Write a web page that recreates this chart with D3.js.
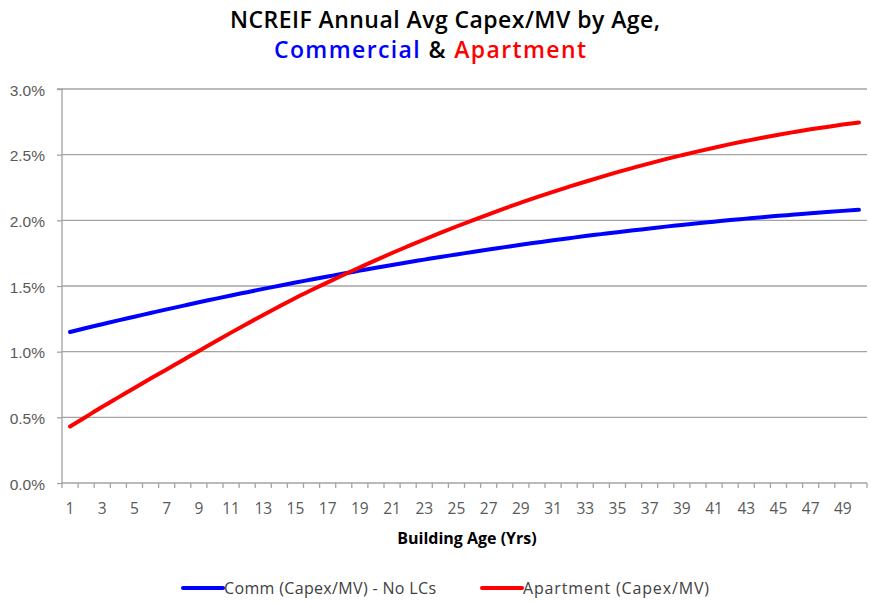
<!DOCTYPE html>
<html>
<head>
<meta charset="utf-8">
<script src="https://cdn.jsdelivr.net/npm/d3@7"></script>
<style>
  body { margin: 0; background: #fff; }
  svg { display: block; }
</style>
</head>
<body>
<div id="chart"></div>
<script>
// building age, years 1..50
const ages = [
  1, 2, 3, 4, 5, 6, 7, 8, 9, 10, 11, 12, 13, 14, 15, 16, 17, 18, 19, 20,
  21, 22, 23, 24, 25, 26, 27, 28, 29, 30, 31, 32, 33, 34, 35, 36, 37, 38, 39, 40,
  41, 42, 43, 44, 45, 46, 47, 48, 49, 50
];

// Capex/MV in percent
const commValues = [
  1.150, 1.180, 1.209, 1.238, 1.266, 1.294, 1.322, 1.349, 1.376, 1.402,
  1.428, 1.453, 1.478, 1.502, 1.526, 1.549, 1.572, 1.595, 1.617, 1.639,
  1.660, 1.681, 1.701, 1.721, 1.740, 1.759, 1.778, 1.796, 1.814, 1.831,
  1.848, 1.864, 1.880, 1.895, 1.910, 1.924, 1.938, 1.952, 1.965, 1.978,
  1.990, 2.002, 2.013, 2.024, 2.034, 2.044, 2.054, 2.063, 2.072, 2.080
];
const aptValues = [
  0.430, 0.505, 0.580, 0.652, 0.724, 0.795, 0.865, 0.935, 1.005, 1.075,
  1.145, 1.213, 1.280, 1.345, 1.409, 1.469, 1.528, 1.586, 1.642, 1.697,
  1.751, 1.803, 1.854, 1.904, 1.953, 2.000, 2.046, 2.091, 2.134, 2.176,
  2.217, 2.256, 2.294, 2.331, 2.367, 2.401, 2.434, 2.466, 2.496, 2.525,
  2.553, 2.580, 2.605, 2.629, 2.652, 2.673, 2.693, 2.711, 2.729, 2.745
];

const yTicks = [0, 0.5, 1.0, 1.5, 2.0, 2.5, 3.0];
const xTickLabels = ages.filter(a => a % 2 === 1);

const series = [
  { name: "Comm (Capex/MV) - No LCs", values: commValues, color: "#0000ff" },
  { name: "Apartment (Capex/MV)", values: aptValues, color: "#ff0000" }
];

const width = 871, height = 602;
const margin = { top: 89, right: 4, bottom: 119, left: 62 };

const svg = d3.select("#chart")
  .append("svg")
  .attr("width", width)
  .attr("height", height)
  .style("font-family", "'Open Sans', sans-serif");

const x = d3.scaleBand()
  .domain(ages)
  .range([margin.left, width - margin.right]);

const y = d3.scaleLinear()
  .domain([0, 3])
  .range([height - margin.bottom, margin.top]);

const gridColor = "#a3a3a3";
const labelColor = "#595959";

// gridlines
svg.append("g")
  .selectAll("line")
  .data(yTicks.filter(d => d > 0))
  .join("line")
  .attr("x1", margin.left)
  .attr("x2", width - margin.right)
  .attr("y1", d => y(d))
  .attr("y2", d => y(d))
  .attr("stroke", gridColor)
  .attr("stroke-width", 1.3);

// y axis
const yAxis = svg.append("g")
  .attr("transform", `translate(${margin.left},0)`)
  .call(d3.axisLeft(y)
    .tickValues(yTicks)
    .tickSize(5)
    .tickPadding(5)
    .tickFormat(d => d3.format(".1f")(d) + "%"));
yAxis.select(".domain").attr("stroke", gridColor).attr("stroke-width", 1.3)
  .attr("d", `M-5,${y(3)}H0V${y(0) + 5}`);
yAxis.selectAll(".tick line").attr("stroke", gridColor).attr("stroke-width", 1.3);
yAxis.selectAll(".tick text")
  .attr("fill", labelColor)
  .style("font-size", "15.5px")
  .attr("x", -17)
  .attr("dy", "0.4em");

// x axis: ticks between categories, labels on odd ages
const xAxis = svg.append("g")
  .attr("transform", `translate(0,${y(0)})`);
xAxis.append("line")
  .attr("x1", margin.left)
  .attr("x2", width - margin.right)
  .attr("stroke", gridColor)
  .attr("stroke-width", 1.3);
xAxis.selectAll(".xt")
  .data(ages)
  .join("line")
  .attr("class", "xt")
  .attr("x1", d => x(d) + x.bandwidth())
  .attr("x2", d => x(d) + x.bandwidth())
  .attr("y1", 0)
  .attr("y2", 5)
  .attr("stroke", gridColor)
  .attr("stroke-width", 1.3);
xAxis.selectAll("text")
  .data(xTickLabels)
  .join("text")
  .attr("x", d => x(d) + x.bandwidth() / 2)
  .attr("y", 31)
  .attr("text-anchor", "middle")
  .attr("fill", labelColor)
  .style("font-size", "15.5px")
  .text(d => d);

// lines
const line = d3.line()
  .x((d, i) => x(ages[i]) + x.bandwidth() / 2)
  .y(d => y(d))
  .curve(d3.curveMonotoneX);

svg.append("g")
  .attr("fill", "none")
  .selectAll("path")
  .data(series)
  .join("path")
  .attr("d", d => line(d.values))
  .attr("stroke", d => d.color)
  .attr("stroke-width", 4)
  .attr("stroke-linecap", "round");

// title
const title = svg.append("g")
  .attr("text-anchor", "middle")
  .style("font-weight", "600")
  .style("font-size", "23px");
title.append("text")
  .attr("x", 445)
  .attr("y", 28)
  .attr("fill", "#000")
  .attr("textLength", 430)
  .text("NCREIF Annual Avg Capex/MV by Age,");
const t2 = title.append("text")
  .attr("x", 430)
  .attr("y", 58)
  .attr("textLength", 312);
t2.append("tspan").attr("fill", "#0000ff").text("Commercial");
t2.append("tspan").attr("fill", "#000").text(" & ");
t2.append("tspan").attr("fill", "#ff0000").text("Apartment");

// x axis title
svg.append("text")
  .attr("x", 467)
  .attr("y", 544)
  .attr("text-anchor", "middle")
  .style("font-weight", "700")
  .style("font-size", "16px")
  .attr("fill", "#000")
  .text("Building Age (Yrs)");

// legend
const legendX = [183, 482];
const legendTextLen = [212, 186];
const legend = svg.append("g")
  .selectAll("g")
  .data(series)
  .join("g")
  .attr("transform", (d, i) => `translate(${legendX[i]},588)`);
legend.append("line")
  .attr("x1", 0)
  .attr("x2", 40)
  .attr("stroke", d => d.color)
  .attr("stroke-width", 4)
  .attr("stroke-linecap", "round");
legend.append("text")
  .attr("x", 41)
  .attr("dy", "0.35em")
  .attr("fill", "#404040")
  .style("font-size", "16px")
  .attr("textLength", (d, i) => legendTextLen[i])
  .text(d => d.name);
</script>
</body>
</html>
